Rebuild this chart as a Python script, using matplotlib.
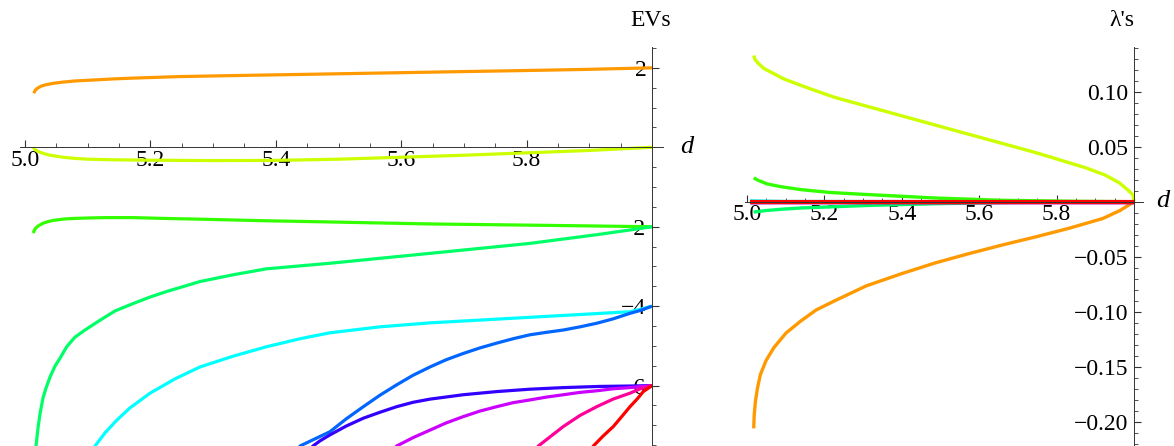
import matplotlib
matplotlib.use('Agg')
import matplotlib.pyplot as plt
from matplotlib.ticker import MultipleLocator, FixedLocator

# hue-based colours, Hue[0.1] ... Hue[1.0]
colors = ['#FF9900', '#CCFF00', '#33FF00', '#00FF66', '#00FFFF',
          '#0066FF', '#3300FF', '#CC00FF', '#FF0099', '#FF0000']

# --- left panel: EVs vs d ---
d_ev_orange = [5.014, 5.016, 5.020, 5.026, 5.032, 5.045, 5.060, 5.080, 5.104, 5.140, 5.170, 5.247,
               5.35, 5.4625, 5.57, 5.678, 5.79, 5.893, 6.0]
ev_orange = [1.36, 1.43, 1.49, 1.54, 1.57, 1.61, 1.64, 1.67, 1.69, 1.72, 1.74, 1.78,
             1.81, 1.84, 1.87, 1.90, 1.93, 1.96, 2.0]

d_ev_yellow = [5.013, 5.016, 5.02, 5.03, 5.04, 5.06, 5.08, 5.1, 5.14, 5.2, 5.3, 5.4, 5.5, 5.6,
               5.7, 5.8, 5.9, 6.0]
ev_yellow = [0.0, -0.06, -0.10, -0.16, -0.20, -0.25, -0.28, -0.30, -0.315, -0.325, -0.335, -0.33,
             -0.30, -0.25, -0.20, -0.14, -0.08, 0.0]

d_ev_green = [5.013, 5.015, 5.018, 5.022, 5.029, 5.037, 5.045, 5.055, 5.0665, 5.08, 5.1, 5.13,
              5.172, 5.22, 5.279, 5.385, 5.486, 5.646, 5.805, 6.0]
ev_green = [-2.16, -2.08, -2.02, -1.97, -1.91, -1.87, -1.84, -1.82, -1.80, -1.79, -1.78, -1.77,
            -1.77, -1.79, -1.81, -1.85, -1.88, -1.93, -1.96, -2.0]

d_ev_spring = [5.0165, 5.0175, 5.0207, 5.024, 5.0287, 5.0335, 5.04, 5.0478, 5.0558, 5.0665,
               5.0797, 5.0957, 5.12, 5.1435, 5.173, 5.1994, 5.226, 5.279, 5.3317, 5.385, 5.486,
               5.646, 5.805, 5.912, 5.9745, 6.0]
ev_spring = [-8.0, -7.52, -7.07, -6.70, -6.31, -6.06, -5.78, -5.51, -5.31, -5.02,
             -4.78, -4.60, -4.35, -4.12, -3.93, -3.77, -3.63, -3.38, -3.21, -3.06, -2.92,
             -2.67, -2.42, -2.20, -2.06, -2.0]

d_ev_cyan = [5.104, 5.1116, 5.1276, 5.1463, 5.1675, 5.1994, 5.2392, 5.2791, 5.3317, 5.3855,
             5.4386, 5.4864, 5.5662, 5.6459, 5.7257, 5.8054, 5.8852, 5.9649, 5.9809, 6.0]
ev_cyan = [-7.75, -7.52, -7.19, -6.87, -6.56, -6.19, -5.83, -5.53, -5.26, -5.02,
           -4.82, -4.67, -4.52, -4.42, -4.35, -4.28, -4.21, -4.14, -4.08, -4.0]

d_ev_azure = [5.43, 5.4386, 5.4625, 5.4864, 5.512, 5.5396, 5.5662, 5.5928, 5.6188, 5.6459,
              5.6715, 5.699, 5.7257, 5.7523, 5.7783, 5.8054, 5.831, 5.8585, 5.8852, 5.9118,
              5.9378, 5.9649, 5.9809, 6.0]
ev_azure = [-7.72, -7.52, -7.34, -7.16, -6.84, -6.53, -6.24, -5.98, -5.74, -5.53,
            -5.35, -5.19, -5.05, -4.93, -4.82, -4.72, -4.66, -4.60, -4.52, -4.43,
            -4.32, -4.18, -4.11, -4.0]

d_ev_indigo = [5.452, 5.4593, 5.4705, 5.4864, 5.512, 5.5396, 5.5662, 5.5928, 5.6188, 5.6459,
               5.6986, 5.7523, 5.8054, 5.8585, 5.917, 5.965, 6.0]
ev_indigo = [-7.65, -7.52, -7.39, -7.24, -7.02, -6.82, -6.67, -6.53, -6.42, -6.34,
             -6.23, -6.15, -6.09, -6.05, -6.02, -6.01, -6.0]

d_ev_violet = [5.585, 5.5928, 5.6188, 5.6459, 5.6715, 5.699, 5.7257, 5.7523, 5.7783, 5.8054,
               5.831, 5.8585, 5.8852, 5.9118, 5.9378, 5.9649, 6.0]
ev_violet = [-7.65, -7.52, -7.31, -7.12, -6.94, -6.78, -6.64, -6.53, -6.43, -6.36,
             -6.29, -6.23, -6.17, -6.13, -6.08, -6.05, -6.0]

d_ev_rose = [5.81, 5.8187, 5.8373, 5.8585, 5.8852, 5.9118, 5.9378, 5.9649, 5.9809, 6.0]
ev_rose = [-7.7, -7.52, -7.29, -7.03, -6.75, -6.53, -6.34, -6.19, -6.08, -6.0]

d_ev_red = [5.90, 5.9064, 5.9219, 5.9383, 5.9522, 5.9649, 5.9761, 5.9861, 6.0]
ev_red = [-7.75, -7.52, -7.27, -7.03, -6.77, -6.53, -6.34, -6.15, -6.0]

# --- right panel: lambda's vs d ---
d_lam_orange = [5.0173, 5.0186, 5.0217, 5.0271, 5.0346, 5.0491, 5.0693, 5.1008, 5.1388, 5.1783,
                5.2253, 5.3075, 5.3987, 5.4858, 5.5724, 5.6589, 5.7457, 5.8346, 5.9191, 5.9638, 6.0]
lam_orange = [-0.2061, -0.1939, -0.1815, -0.1694, -0.1571, -0.1445, -0.1327, -0.1194, -0.1085, -0.0985,
              -0.0903, -0.0766, -0.0655, -0.0557, -0.0473, -0.0394, -0.0320, -0.0239, -0.0153, -0.0080, 0.0]

d_lam_yellow = [5.0173, 5.0207, 5.0302, 5.0439, 5.0953, 5.1576, 5.2253, 5.3987, 5.5724, 5.7457,
                5.8757, 5.9251, 5.9625, 5.9845, 5.9974, 6.0]
lam_yellow = [0.1330, 0.1293, 0.1254, 0.1211, 0.1116, 0.1034, 0.0950, 0.0782, 0.0614, 0.0447,
              0.0308, 0.0243, 0.0171, 0.0106, 0.0061, 0.0]

d_lam_green = [5.0173, 5.0284, 5.052, 5.0853, 5.139, 5.2145, 5.312, 5.486, 5.659, 5.85, 6.0]
lam_green = [0.0217, 0.0195, 0.0162, 0.0138, 0.011, 0.0084, 0.0065, 0.0034, 0.0013, 0.0004, 0.0]

d_lam_spring = [5.017, 5.05, 5.09, 5.139, 5.312, 5.486, 5.7, 6.0]
lam_spring = [-0.0094, -0.0080, -0.0068, -0.0057, -0.0034, -0.0018, -0.0006, 0.0]

d_lam_cyan = [5.008, 5.1, 6.0]
lam_cyan = [0.0008, 0.0002, 0.0]

d_lam_azure = [5.008, 5.1, 6.0]
lam_azure = [-0.0008, -0.0002, 0.0]

d_lam_flat = [5.008, 6.0]
lam_flat = [0.0, 0.0]

ev_curves = [(d_ev_orange, ev_orange), (d_ev_yellow, ev_yellow), (d_ev_green, ev_green),
             (d_ev_spring, ev_spring), (d_ev_cyan, ev_cyan), (d_ev_azure, ev_azure),
             (d_ev_indigo, ev_indigo), (d_ev_violet, ev_violet), (d_ev_rose, ev_rose),
             (d_ev_red, ev_red)]
lam_curves = [(d_lam_orange, lam_orange), (d_lam_yellow, lam_yellow), (d_lam_green, lam_green),
              (d_lam_spring, lam_spring), (d_lam_cyan, lam_cyan), (d_lam_azure, lam_azure),
              (d_lam_flat, lam_flat), (d_lam_flat, lam_flat), (d_lam_flat, lam_flat),
              (d_lam_flat, lam_flat)]

x_major = [5.0, 5.2, 5.4, 5.6, 5.8]
x_labels = ['5.0', '5.2', '5.4', '5.6', '5.8']
ev_major = [-6, -4, -2, 2]
ev_labels = ['\u22126', '\u22124', '\u22122', '2']
lam_major = [-0.20, -0.15, -0.10, -0.05, 0.05, 0.10]
lam_labels = ['\u22120.20', '\u22120.15', '\u22120.10', '\u22120.05', '0.05', '0.10']

plt.rcParams['font.family'] = ['Liberation Serif', 'DejaVu Serif']
W, H = 1174, 446
fig = plt.figure(figsize=(W / 100, H / 100), dpi=100)

axis_col = '#333333'


def style_axes(ax):
    for s in ['top', 'right']:
        ax.spines[s].set_visible(False)
    ax.spines['left'].set_position(('data', 6.0))
    ax.spines['bottom'].set_position(('data', 0.0))
    for s in ['left', 'bottom']:
        ax.spines[s].set_color(axis_col)
        ax.spines[s].set_linewidth(0.7)
        ax.spines[s].set_zorder(3)
    ax.xaxis.set_major_locator(FixedLocator(x_major))
    ax.set_xticklabels(x_labels)
    ax.xaxis.set_minor_locator(MultipleLocator(0.05))
    ax.tick_params(which='both', direction='in', color=axis_col, labelsize=17)
    ax.tick_params(which='major', length=5, width=0.8)
    ax.tick_params(which='minor', length=3, width=0.6)
    ax.tick_params(axis='x', pad=2)
    ax.tick_params(axis='y', pad=4)
    ax.patch.set_alpha(0)


# left panel
ax1 = fig.add_axes([20 / W, 0, 643 / W, (446 - 47.3) / H])
for (xs, ys), c in zip(ev_curves, colors):
    ax1.plot(xs, ys, color=c, lw=2.3, solid_capstyle='butt', zorder=2)
ax1.set_xlim(4.992, 6.0175)
ax1.set_ylim(-7.52, 2.517)
style_axes(ax1)
ax1.yaxis.set_major_locator(FixedLocator(ev_major))
ax1.set_yticklabels(ev_labels)
ax1.yaxis.set_minor_locator(MultipleLocator(0.5))

# right panel (the last, red curve lies on the axis and covers the others there)
ax2 = fig.add_axes([745 / W, 0, 398 / W, (446 - 47.3) / H])
for i, ((xs, ys), c) in enumerate(zip(lam_curves, colors)):
    lw = 3.0 if i == len(lam_curves) - 1 else 2.4
    ax2.plot(xs, ys, color=c, lw=lw, solid_capstyle='butt', zorder=2)
ax2.set_xlim(4.9948, 6.0233)
ax2.set_ylim(-0.2221, 0.1404)
style_axes(ax2)
ax2.yaxis.set_major_locator(FixedLocator(lam_major))
ax2.set_yticklabels(lam_labels)
ax2.yaxis.set_minor_locator(MultipleLocator(0.01))

# axis labels, placed like Mathematica's AxesLabel
fig.text(651 / W, 1 - 20 / H, 'EVs', fontsize=17, ha='center', va='center')
fig.text(1122 / W, 1 - 20 / H, "\u03bb's", fontsize=17, ha='center', va='center')
fig.text(680 / W, 1 - 147 / H, 'd', fontsize=19, style='italic', ha='left', va='center')
fig.text(1156 / W, 1 - 201 / H, 'd', fontsize=19, style='italic', ha='left', va='center')

fig.savefig('out.png', dpi=100)
